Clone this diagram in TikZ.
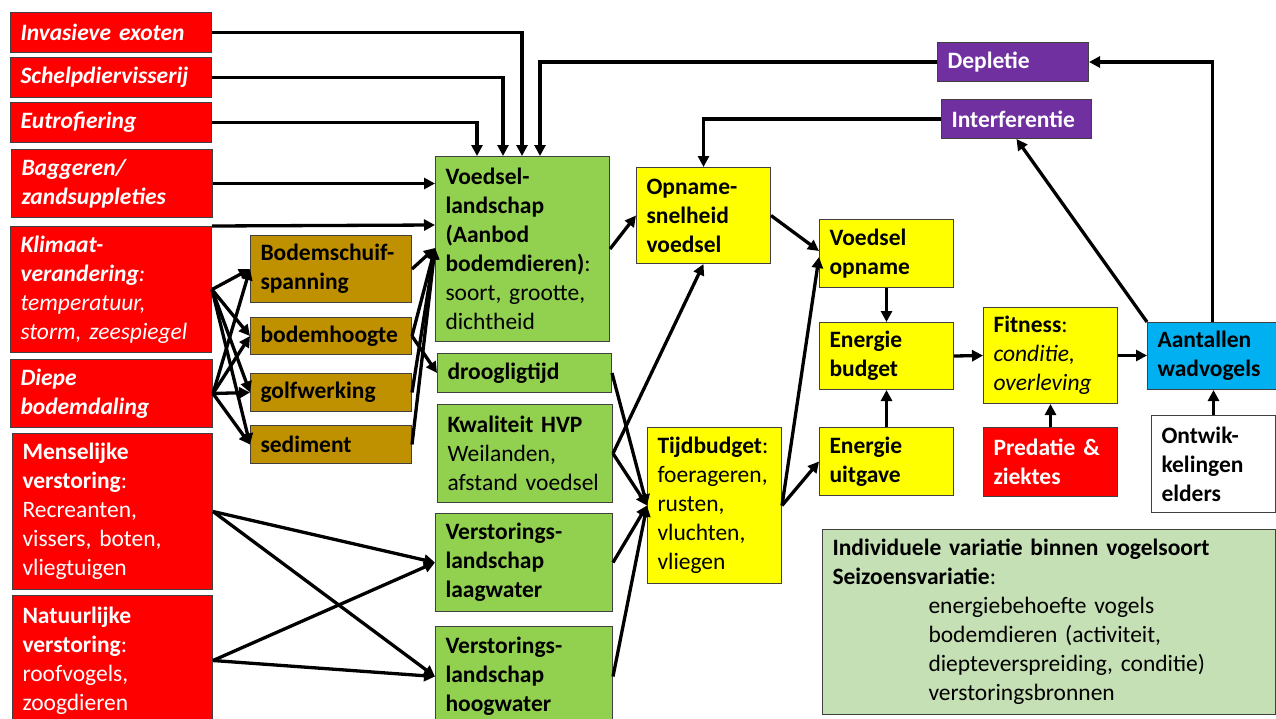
\documentclass[tikz,border=0pt]{standalone}
\usepackage{fontspec}
\setmainfont{Carlito}
\usetikzlibrary{arrows.meta,calc}
\definecolor{cred}{HTML}{FF0000}
\definecolor{cgreen}{HTML}{92D050}
\definecolor{cyel}{HTML}{FFFF00}
\definecolor{cbrown}{HTML}{BF9000}
\definecolor{cpurp}{HTML}{7030A0}
\definecolor{cblue}{HTML}{00B0F0}
\definecolor{clgreen}{HTML}{C5E0B4}
\definecolor{cedge}{HTML}{404040}
\newcommand{\BI}[1]{\textbf{\textit{#1}}}
\newcommand{\IND}{\hspace*{96pt}}
\tikzset{
  box/.style={draw=cedge, line width=1pt, anchor=north west, inner xsep=10pt, inner ysep=0pt,
    align=left, font=\fontsize{23.5}{29}\selectfont},
  redbox/.style={box, fill=cred, text=white},
  greenbox/.style={box, fill=cgreen},
  yelbox/.style={box, fill=cyel},
  brownbox/.style={box, fill=cbrown},
  purpbox/.style={box, fill=cpurp, text=white},
  arr/.style={line width=3.3pt, -{Triangle[length=11pt,width=11pt]}},
  plain/.style={line width=3.3pt}
}
\begin{document}
\begin{tikzpicture}[x=1pt,y=-1pt]
\useasboundingbox (0,0) rectangle (1276,718);
% left red boxes
\node[redbox, text width=181pt, minimum height=40pt] (inv) at (10,12) {\BI{Invasieve exoten}};
\node[redbox, text width=181pt, minimum height=40pt] (sch) at (10,57) {\BI{Schelpdiervisserij}};
\node[redbox, text width=181pt, minimum height=40pt] (eut) at (10,102) {\BI{Eutrofiering}};
\node[redbox, text width=181pt, minimum height=68pt] (bag) at (11,149) {\BI{Baggeren/}\\\BI{zandsuppleties}};
\node[redbox, text width=181pt, minimum height=126pt] (kli) at (10,226) {\BI{Klimaat-}\\\BI{verandering}\textit{:}\\\textit{temperatuur,}\\\textit{storm, zeespiegel}};
\node[redbox, text width=182pt, minimum height=68pt] (die) at (10,359) {\BI{Diepe}\\\BI{bodemdaling}};
\node[redbox, text width=180pt, minimum height=156pt] (men) at (12,433) {\textbf{Menselijke}\\\textbf{verstoring}:\\Recreanten,\\vissers, boten,\\vliegtuigen};
\node[redbox, text width=180pt, minimum height=130pt] (nat) at (12,595) {\textbf{Natuurlijke}\\\textbf{verstoring}:\\roofvogels,\\zoogdieren};
% brown boxes
\node[brownbox, text width=141pt, minimum height=67pt] (bsp) at (250,235) {\textbf{Bodemschuif-}\\\textbf{spanning}};
\node[brownbox, text width=141pt, minimum height=37pt] (bho) at (250,317) {\textbf{bodemhoogte}};
\node[brownbox, text width=141pt, minimum height=38pt] (gol) at (250,373) {\textbf{golfwerking}};
\node[brownbox, text width=141pt, minimum height=38pt] (sed) at (250,425) {\textbf{sediment}};
% green boxes
\node[greenbox, text width=154pt, minimum height=185pt] (voed) at (435,156) {\textbf{Voedsel-}\\\textbf{landschap}\\\textbf{(Aanbod}\\\textbf{bodemdieren)}:\\soort, grootte,\\dichtheid};
\node[greenbox, text width=154pt, minimum height=39pt] (droog) at (437,353) {\textbf{droogligtijd}};
\node[greenbox, text width=155pt, minimum height=98pt] (kwal) at (437,404) {\textbf{Kwaliteit HVP}\\Weilanden,\\afstand voedsel};
\node[greenbox, text width=157pt, minimum height=98pt] (laag) at (435,513) {\textbf{Verstorings-}\\\textbf{landschap}\\\textbf{laagwater}};
\node[greenbox, text width=157pt, minimum height=100pt] (hoog) at (435,626) {\textbf{Verstorings-}\\\textbf{landschap}\\\textbf{hoogwater}};
% yellow boxes
\node[yelbox, text width=114pt, minimum height=96pt] (opn) at (636,167) {\textbf{Opname-}\\\textbf{snelheid}\\\textbf{voedsel}};
\node[yelbox, text width=114pt, minimum height=156pt] (tijd) at (647,427) {\textbf{Tijdbudget}:\\foerageren,\\rusten,\\vluchten,\\vliegen};
\node[yelbox, text width=114pt, minimum height=68pt] (vop) at (819,219) {\textbf{Voedsel}\\\textbf{opname}};
\node[yelbox, text width=114pt, minimum height=67pt] (eb) at (819,322) {\textbf{Energie}\\\textbf{budget}};
\node[yelbox, text width=114pt, minimum height=68pt] (eu) at (819,427) {\textbf{Energie}\\\textbf{uitgave}};
\node[yelbox, text width=114pt, minimum height=96pt] (fit) at (983,307) {\textbf{Fitness}:\\\textit{conditie,}\\\textit{overleving}};
\node[redbox, text width=114pt, minimum height=69pt] (pred) at (983,427) {\textbf{Predatie \&}\\\textbf{ziektes}};
\node[box, fill=cblue, text width=110pt, minimum height=67pt] (aan) at (1147,322) {\textbf{Aantallen}\\\textbf{wadvogels}};
\node[box, fill=white, text width=104pt, minimum height=97pt] (ont) at (1151,415) {\textbf{Ontwik-}\\\textbf{kelingen}\\\textbf{elders}};
\node[box, fill=clgreen, text width=433pt, minimum height=185pt] (big) at (822,529) {\textbf{Individuele variatie binnen vogelsoort}\\\textbf{Seizoensvariatie}:\\\IND energiebehoefte vogels\\\IND bodemdieren (activiteit,\\\IND diepteverspreiding, conditie)\\\IND verstoringsbronnen};
% purple boxes
\node[purpbox, text width=131pt, minimum height=39pt] (dep) at (937,42) {\textbf{Depletie}};
\node[purpbox, text width=130pt, minimum height=39pt] (intf) at (941,99) {\textbf{Interferentie}};
% connectors from the top
\draw[arr] (inv.east) -| ([xshift=87pt]voed.north west);
\draw[arr] (sch.east) -| ([xshift=68pt]voed.north west);
\draw[arr] (eut.east) -| ([xshift=42pt]voed.north west);
\draw[arr] (dep.west) -| ([xshift=105pt]voed.north west);
\draw[arr] (intf.west) -| (opn.north);
\draw[arr] (bag.east) -- (bag.east -| voed.west);
\draw[arr] (kli.north east) -- (voed.west |- 0,225);
% climate and subsidence fans
\foreach \t in {bsp,bho,gol,sed}{
  \draw[arr] (kli.east) -- (\t.west);
  \draw[arr] (die.east) -- (\t.west);
  \draw[arr] (\t.east) -- (voed.west |- 0,248);
}
\draw[arr] (bho.east) -- (droog.west);
% disturbance
\draw[arr] (men.east) -- (laag.west);
\draw[arr] (men.east) -- (hoog.west);
\draw[arr] (nat.east) -- (laag.west);
\draw[arr] (nat.east) -- (hoog.west);
% middle
\draw[arr] (voed.east) -- (opn.west);
\draw[arr] (opn.east) -- (vop.west |- 0,251);
\draw[arr] (kwal.east) -- (opn.south);
\draw[arr] (kwal.east) -- (tijd.west);
\draw[arr] (droog.east) -- (tijd.west);
\draw[arr] (laag.east) -- (tijd.west);
\draw[arr] (hoog.east) -- (tijd.west);
\draw[arr] (tijd.east) -- (vop.west |- 0,257);
\draw[arr] (tijd.east) -- (eu.west);
% right
\draw[arr] (vop.south) -- (eb.north);
\draw[arr] (eu.north) -- (eb.south);
\draw[arr] (eb.east) -- (fit.west);
\draw[arr] (fit.east) -- (fit.east -| aan.west);
\draw[arr] (pred.north) -- (fit.south);
\draw[arr] (ont.north) -- (ont.north |- aan.south);
\draw[arr] (aan.north west) -- (intf.south);
\draw[arr] (aan.north) |- (dep.east);
\end{tikzpicture}
\end{document}
